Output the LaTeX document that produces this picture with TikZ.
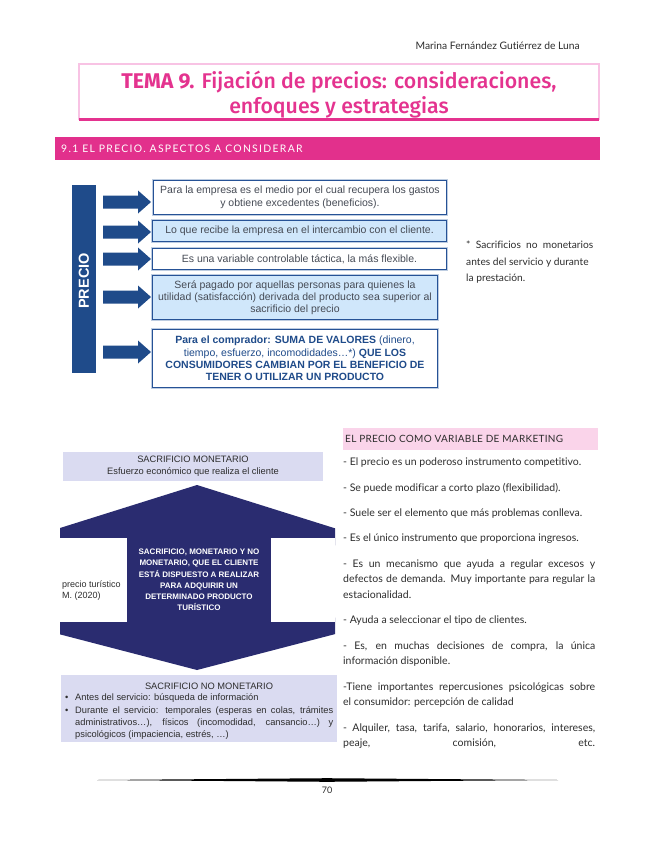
\documentclass[tikz,border=0pt]{standalone}
\usepackage{fontspec}
\setmainfont{Lato}[Ligatures={NoCommon}]
\newfontfamily\arial{Liberation Sans}
\newfontfamily\titlef{Fira Sans}[UprightFont={* Medium},BoldFont={* Bold}]
\definecolor{tpink}{RGB}{228,51,143}
\definecolor{lpink}{RGB}{248,195,228}
\definecolor{barpink}{RGB}{226,48,140}
\definecolor{hlpink}{RGB}{250,212,234}
\definecolor{pblue}{RGB}{31,75,138}
\definecolor{bblue}{RGB}{38,82,150}
\definecolor{edge}{RGB}{190,205,225}
\definecolor{lblue}{RGB}{208,231,251}
\definecolor{navy}{RGB}{42,44,112}
\definecolor{lav}{RGB}{218,219,241}
\definecolor{txt}{RGB}{45,45,45}
\definecolor{btxt}{RGB}{70,75,85}
\newcommand\jline[2][252pt]{\makebox[#1][s]{#2}}
\tikzset{
  infobox/.style={draw=bblue,line width=1.6pt,inner sep=0pt,align=center,
    preaction={draw=edge,line width=3.4pt},
    font=\arial\fontsize{10.5}{13}\selectfont,text=btxt},
  body/.style={anchor=west,inner sep=0pt,text=txt,font=\fontsize{10.5}{12}\selectfont},
  lavbox/.style={fill=lav,inner sep=0pt},
  dtext/.style={inner sep=0pt,text=txt,font=\arial\fontsize{9.3}{12}\selectfont},
}
\begin{document}
\begin{tikzpicture}[x=1pt,y=-1pt]
\useasboundingbox[fill=white] (0,0) rectangle (655,848);
% header
\node[anchor=east,inner sep=0pt,text=txt,font=\fontsize{10.3}{11}\selectfont] (author) at (580,46) {Marina Fernández Gutiérrez de Luna};
% title box
\draw[lpink,line width=1.6pt] (79,64) rectangle (599,119);
\draw[tpink,line width=3pt] (79,120) -- (599,120);
\node[inner sep=0pt,align=center,text=tpink,font=\titlef\fontsize{21.3}{25.5}\selectfont] (title) at (339,94.5)
  {\textbf{TEMA 9.} Fijación de precios: consideraciones,\\ enfoques y estrategias};
% section bar
\fill[barpink] (55,137) rectangle (600,160);
\node[anchor=west,inner sep=0pt,text=white,font=\fontsize{10.4}{11}\selectfont\addfontfeatures{LetterSpace=12.5}] (sec) at (61,148.5) {9.1 EL PRECIO. ASPECTOS A CONSIDERAR};
% PRECIO bar
\node[fill=pblue,minimum width=24pt,minimum height=188pt,inner sep=0pt] (precio) at (84,279) {};
\node[rotate=90,text=white,font=\arial\bfseries\fontsize{14.5}{15}\selectfont,inner sep=0pt] (precioT) at (84,281) {PRECIO};
% boxes
\node[infobox,fill=white,minimum width=293pt,minimum height=34pt] (b1) at (300,197.5)
  {Para la empresa es el medio por el cual recupera los gastos\\ y obtiene excedentes (beneficios).};
\node[infobox,fill=lblue,minimum width=294pt,minimum height=21pt] (b2) at (299.5,231)
  {Lo que recibe la empresa en el intercambio con el cliente.};
\node[infobox,fill=white,minimum width=294pt,minimum height=21pt] (b3) at (299.5,259)
  {Es una variable controlable táctica, la más flexible.};
\node[infobox,fill=lblue,minimum width=285pt,minimum height=44pt,font=\arial\fontsize{10.5}{12.2}\selectfont] (b4) at (295,297.5)
  {Será pagado por aquellas personas para quienes la\\ utilidad (satisfacción) derivada del producto sea superior al\\ sacrificio del precio};
\node[infobox,fill=white,minimum width=285pt,minimum height=58pt,text=pblue,font=\arial\fontsize{10.5}{12.4}\selectfont] (b5) at (295,358.5)
  {\textbf{Para el comprador: SUMA DE VALORES} (dinero,\\ tiempo, esfuerzo, incomodidades…*) \textbf{QUE LOS}\\ \textbf{CONSUMIDORES CAMBIAN POR EL BENEFICIO DE}\\ \textbf{TENER O UTILIZAR UN PRODUCTO}};
% block arrows
\foreach \yy in {202,232,259,297,352}{
  \fill[pblue] (103,\yy-6.5) -- (138,\yy-6.5) -- (138,\yy-11.5) -- (151,\yy)
    -- (138,\yy+11.5) -- (138,\yy+6.5) -- (103,\yy+6.5) -- cycle;
}
% note
\node[anchor=north west,inner sep=0pt,text=txt,font=\fontsize{10.2}{16.5}\selectfont,align=left] (note) at (466,241)
  {\jline[127pt]{* Sacrificios no monetarios}\\ antes del servicio y durante\\ la prestación.};
% ---------- lower left diagram
\begin{scope}
\clip (60,470) rectangle (335,680);
\fill[navy] (197,485) -- (420,555) -- (271,538) -- (271,622) -- (420,612) -- (197,670)
  -- (-26,612) -- (127,622) -- (127,538) -- (-26,555) -- cycle;
\end{scope}
\fill[white] (60,538) rectangle (127,622);
\fill[white] (271,538) rectangle (335,622);
\node[anchor=west,inner sep=0pt,align=left,text=txt,font=\arial\fontsize{9}{11}\selectfont] (src) at (62,591)
  {precio turístico\\ M. (2020)};
\node[inner sep=0pt,align=center,text=white,font=\arial\bfseries\fontsize{8}{11.2}\selectfont] (dblt) at (199,580)
  {SACRIFICIO, MONETARIO Y NO\\ MONETARIO, QUE EL CLIENTE\\ ESTÁ DISPUESTO A REALIZAR\\ PARA ADQUIRIR UN\\ DETERMINADO PRODUCTO\\ TURÍSTICO};
\node[lavbox,minimum width=260pt,minimum height=29pt] (mon) at (193,466) {};
\node[dtext,align=center] (monT) at (mon.center) {SACRIFICIO MONETARIO\\ Esfuerzo económico que realiza el cliente};
\node[lavbox,minimum width=276pt,minimum height=67pt] (nomon) at (199,708.5) {};
\node[dtext] (nomonT) at (209,686) {SACRIFICIO NO MONETARIO};
\node[dtext,anchor=west] (bl1) at (65,698) {•};
\node[dtext,anchor=west] (t1) at (75,698) {Antes del servicio: búsqueda de información};
\node[dtext,anchor=west] (bl2) at (65,711) {•};
\node[dtext,anchor=west] (t2) at (75,711) {\jline[258pt]{Durante el servicio: temporales (esperas en colas, trámites}};
\node[dtext,anchor=west] (t3) at (75,723) {\jline[258pt]{administrativos…), físicos (incomodidad, cansancio…) y}};
\node[dtext,anchor=west] (t4) at (75,735) {psicológicos (impaciencia, estrés, …)};
% ---------- right column
\fill[hlpink] (343,428) rectangle (598,450);
\node[anchor=west,inner sep=0pt,text=txt,font=\fontsize{10}{11}\selectfont\addfontfeatures{LetterSpace=3}] (mk) at (345,439) {EL PRECIO COMO VARIABLE DE MARKETING};
\node[body] (r1) at (343,463) {- El precio es un poderoso instrumento competitivo.};
\node[body] (r2) at (343,488) {- Se puede modificar a corto plazo (flexibilidad).};
\node[body] (r3) at (343,514) {- Suele ser el elemento que más problemas conlleva.};
\node[body] (r4) at (343,539) {- Es el único instrumento que proporciona ingresos.};
\node[body] (r5) at (343,565) {\jline{- Es un mecanismo que ayuda a regular excesos y}};
\node[body] (r5b) at (343,580) {\jline{defectos de demanda. Muy importante para regular la}};
\node[body] (r5c) at (343,595) {estacionalidad.};
\node[body] (r6) at (343,621) {- Ayuda a seleccionar el tipo de clientes.};
\node[body] (r7) at (343,647) {\jline{- Es, en muchas decisiones de compra, la única}};
\node[body] (r7b) at (343,662) {información disponible.};
\node[body] (r8) at (343,688) {\jline{-Tiene importantes repercusiones psicológicas sobre}};
\node[body] (r8b) at (343,703) {el consumidor: percepción de calidad};
\node[body] (r9) at (343,729) {\jline{- Alquiler, tasa, tarifa, salario, honorarios, intereses,}};
\node[body] (r9b) at (343,744) {\jline{peaje, comisión, etc.}};
% footer
\fill[black] (97,780) -- (327,778.2) -- (558,780) -- (327,781.8) -- cycle;
\node[inner sep=0pt,text=txt,font=\fontsize{9}{10}\selectfont] (pg) at (327,790) {70};
\end{tikzpicture}
\end{document}
